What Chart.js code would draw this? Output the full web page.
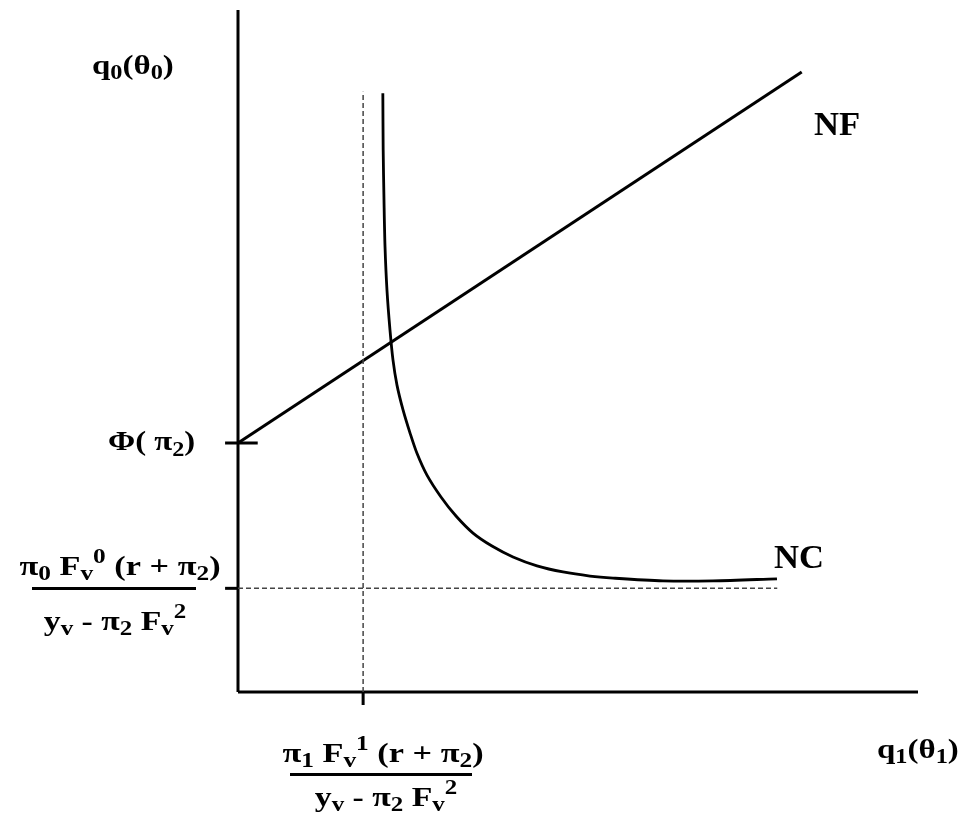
<!DOCTYPE html>
<html>
<head>
<meta charset="utf-8">
<script src="https://cdn.jsdelivr.net/npm/chart.js@4/dist/chart.umd.min.js"></script>
<style>
  html, body { margin: 0; padding: 0; background: #fff; overflow: hidden; }
  canvas { display: block; }
</style>
</head>
<body>
<canvas id="c" width="965" height="819"></canvas>
<script>
// 數據空間：原點在兩軸交點，x 0..10、y 0..10
var axisMax = 10;
var phiLevel = 3.65;        // Φ(π2)
var ncFloor = 1.52;         // NC 的漸近水平線
var ncWall = 1.84;          // NC 的漸近垂直線
var wallTop = 8.8;

// NF 直線
var nfX = [0, 8.29];
var nfY = [phiLevel, 9.09];

// NC 曲線
var ncX = [2.13, 2.135, 2.147, 2.162, 2.191, 2.235, 2.279, 2.338, 2.426, 2.529, 2.632, 2.779,
           2.985, 3.206, 3.456, 3.735, 4.044, 4.397, 4.779, 5.176, 5.515, 6.25, 6.985, 7.926];
var ncY = [8.78, 7.95, 7.21, 6.53, 5.89, 5.31, 4.87, 4.50, 4.14, 3.80, 3.50, 3.18,
           2.86, 2.58, 2.33, 2.14, 1.98, 1.85, 1.76, 1.70, 1.67, 1.63, 1.63, 1.66];

function pts(xs, ys) { return xs.map(function (x, i) { return { x: x, y: ys[i] }; }); }

var SOLID = { borderColor: '#000', borderWidth: 3, pointRadius: 0, showLine: true, fill: false, tension: 0 };
function solid(data, extra) { return Object.assign({}, SOLID, { data: data }, extra || {}); }
function dashed(data) {
  return Object.assign({}, SOLID, { data: data, borderColor: '#444', borderWidth: 1.5, borderDash: [5, 3] });
}

var datasets = [
  dashed([{ x: ncWall, y: 0 }, { x: ncWall, y: wallTop }]),
  dashed([{ x: 0, y: ncFloor }, { x: 7.93, y: ncFloor }]),
  solid([{ x: 0, y: 0 }, { x: 0, y: axisMax }]),            // y 軸
  solid([{ x: 0, y: 0 }, { x: axisMax, y: 0 }]),            // x 軸
  solid([{ x: -0.19, y: phiLevel }, { x: 0.29, y: phiLevel }]),
  solid([{ x: -0.19, y: ncFloor }, { x: 0, y: ncFloor }]),
  solid([{ x: ncWall, y: 0 }, { x: ncWall, y: -0.19 }]),
  solid(pts(nfX, nfY)),
  solid(pts(ncX, ncY), { tension: 0.3, borderWidth: 2.8 }),
];

/* ---- 文字（含上下標，原圖字形較寬 → 水平拉伸） ---- */
var FONT = '"Liberation Serif", "Times New Roman", serif';
function drawRich(ctx, runs, x, y, size, align, sx) {
  sx = sx || 1.25;
  var w = 0;
  runs.forEach(function (r) {
    var s = r.k ? size * 0.74 : size;
    ctx.font = 'bold ' + s + 'px ' + FONT;
    r._w = ctx.measureText(r.t).width; r._s = s;
    w += r._w;
  });
  var total = w * sx;
  var x0 = align === 'center' ? x - total / 2 : (align === 'right' ? x - total : x);
  ctx.save();
  ctx.translate(x0, y);
  ctx.scale(sx, 1);
  var cx = 0;
  runs.forEach(function (r) {
    ctx.font = 'bold ' + r._s + 'px ' + FONT;
    var dy = r.k === 'sub' ? size * 0.2 : (r.k === 'sup' ? -size * 0.45 : 0);
    ctx.fillText(r.t, cx, dy);
    cx += r._w;
  });
  ctx.restore();
  return total;
}
function B(t) { return { t: t }; }
function sub(t) { return { t: t, k: 'sub' }; }
function sup(t) { return { t: t, k: 'sup' }; }

var labels = {
  id: 'labels',
  afterDraw: function (chart) {
    var ctx = chart.ctx;
    ctx.save();
    ctx.fillStyle = '#000';
    ctx.textBaseline = 'alphabetic';
    ctx.textAlign = 'left';
    drawRich(ctx, [B('q'), sub('0'), B('('), B('θ'), sub('0'), B(')')], 92, 74, 27, 'left', 1.22);
    drawRich(ctx, [B('q'), sub('1'), B('('), B('θ'), sub('1'), B(')')], 877, 758, 27, 'left', 1.22);
    drawRich(ctx, [B('NF')], 814, 135, 33, 'left', 1.05);
    drawRich(ctx, [B('NC')], 774, 568, 33, 'left', 1.05);
    drawRich(ctx, [B('Φ'), B('( '), B('π'), sub('2'), B(')')], 108, 450, 28, 'left', 1.17);

    // 左側分式
    drawRich(ctx, [B('π'), sub('0'), B(' F'), sub('v'), sup('0'), B(' (r + '), B('π'), sub('2'), B(')')], 120, 575, 27, 'center', 1.27);
    ctx.fillRect(32, 587, 164, 3);
    drawRich(ctx, [B('y'), sub('v'), B(' - '), B('π'), sub('2'), B(' F'), sub('v'), sup('2')], 115, 630, 27, 'center', 1.25);

    // 下方分式
    drawRich(ctx, [B('π'), sub('1'), B(' F'), sub('v'), sup('1'), B(' (r + '), B('π'), sub('2'), B(')')], 383, 762, 27, 'center', 1.27);
    ctx.fillRect(290, 773, 182, 3);
    drawRich(ctx, [B('y'), sub('v'), B(' - '), B('π'), sub('2'), B(' F'), sub('v'), sup('2')], 386, 806, 27, 'center', 1.25);
    ctx.restore();
  }
};

new Chart(document.getElementById('c'), {
  type: 'scatter',
  data: { datasets: datasets },
  options: {
    responsive: false,
    animation: false,
    events: [],
    layout: { padding: { left: 238, right: 47, top: 10, bottom: 127 } },
    scales: {
      x: { type: 'linear', min: 0, max: axisMax, display: false },
      y: { type: 'linear', min: 0, max: axisMax, display: false },
    },
    plugins: { legend: { display: false }, tooltip: { enabled: false } },
    clip: false,
  },
  plugins: [labels],
});
</script>
</body>
</html>
